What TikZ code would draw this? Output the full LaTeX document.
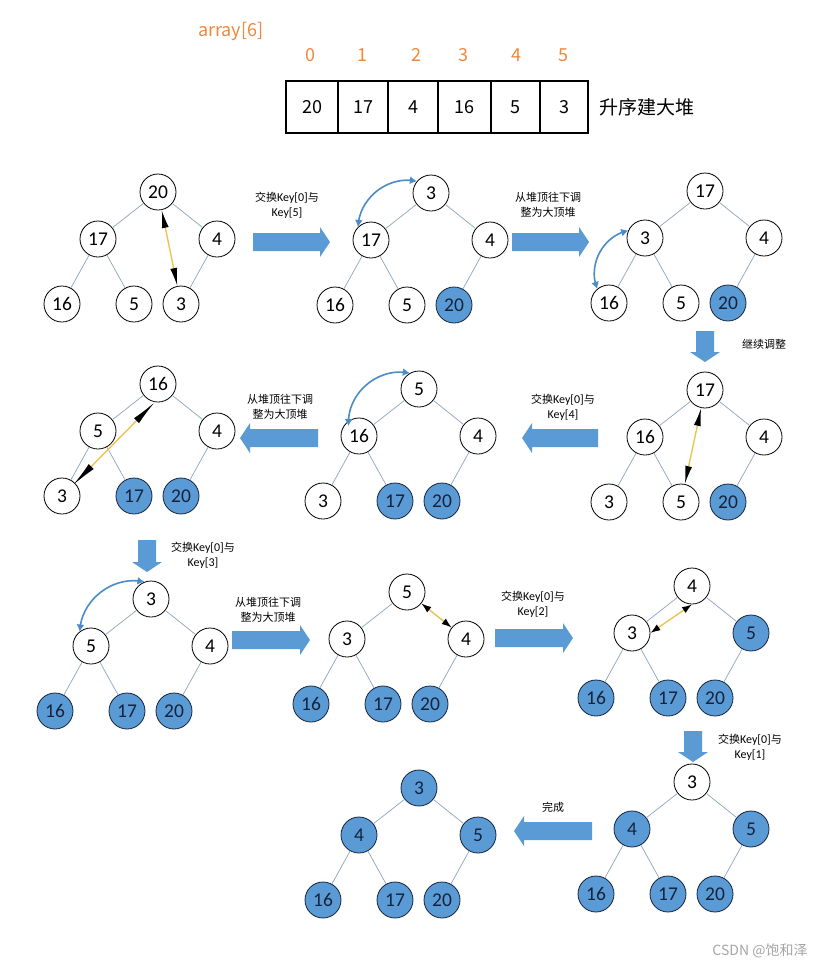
\documentclass[tikz,border=0pt]{standalone}
\usepackage{fontspec}
\setmainfont{Carlito}
\newfontfamily\cjk{Noto Sans CJK SC}
\usetikzlibrary{arrows.meta,bending}
\definecolor{hblue}{HTML}{5B9BD5}
\definecolor{hnavy}{HTML}{14233C}
\definecolor{hline}{RGB}{140,165,190}
\definecolor{horange}{HTML}{F0883C}
\definecolor{hyellow}{RGB}{238,196,80}
\definecolor{hcurve}{HTML}{4A8CC8}
\definecolor{hgray}{RGB}{165,165,165}
\newcommand\zh[1]{{\cjk\fontsize{11}{15}\selectfont #1}}
\def\hthresh{6}
\newcommand\htree[9]{%
  \edef\hthresh{\the\numexpr6-#3\relax}%
  \begin{scope}[shift={#2}]
    \node[hx=1] (#1a) at (0,0) {#4};
    \node[hx=2] (#1b) at (-60,47) {#5};
    \node[hx=3] (#1c) at (59,47) {#6};
    \node[hx=4] (#1d) at (-96,112) {#7};
    \node[hx=5] (#1e) at (-24,112) {#8};
    \node[hx=6] (#1f) at (23,112) {#9};
    \draw[tedge] (#1a) -- (#1b) (#1a) -- (#1c) (#1b) -- (#1d) (#1b) -- (#1e) (#1c) -- (#1f);
  \end{scope}}
\tikzset{
  hn/.style={circle,draw=black,line width=0.8pt,minimum size=36pt,inner sep=0pt,fill=white,text=black,font=\fontsize{19.5}{19.5}\selectfont},
  hf/.style={hn,fill=hblue,draw=hnavy,text=hnavy},
  hx/.code={\ifnum#1>\hthresh\relax\pgfkeysalso{hf}\else\pgfkeysalso{hn}\fi},
  tedge/.style={draw=hline,line width=0.7pt},
  yarrow/.style={draw=hyellow,line width=1.4pt,{Latex[color=black,length=#1,width=7pt]}-{Latex[color=black,length=#1,width=7pt]}},
  yarrow/.default=18pt,
  carrow/.style={draw=hcurve,line width=1.6pt,{Latex[length=7pt,width=8pt,flex]}-{Latex[length=7pt,width=8pt,flex]}},
  lbl/.style={align=center,font=\fontsize{12}{15}\selectfont,inner sep=0pt},
  cell/.style={draw=black,line width=2.6pt,minimum height=52pt,inner sep=0pt,font=\cjk\fontsize{18}{18}\selectfont},
  idx/.style={text=horange,font=\cjk\fontsize{18}{18}\selectfont,inner sep=0pt},
  blk/.pic={\fill[hblue] (0,-9) -- (#1-10,-9) -- (#1-10,-15) -- (#1,0) -- (#1-10,15) -- (#1-10,9) -- (0,9) -- cycle;}
}
\begin{document}
\begin{tikzpicture}[x=1pt,y=-1pt]
\useasboundingbox (0,0) rectangle (825,967);
\fill[white] (0,0) rectangle (825,967);

% array
\node[idx,anchor=west] (arr) at (198,31) {array[6]};
\node[cell,minimum width=52pt] (c0) at (312,107) {20};
\node[cell,minimum width=50pt] (c1) at (363,107) {17};
\node[cell,minimum width=50pt] (c2) at (413,107) {4};
\node[cell,minimum width=53pt] (c3) at (464.5,107) {16};
\node[cell,minimum width=49pt] (c4) at (515.5,107) {5};
\node[cell,minimum width=48pt] (c5) at (564,107) {3};
\node[idx] (i0) at (310,55) {0};
\node[idx] (i1) at (362,55) {1};
\node[idx] (i2) at (416,55) {2};
\node[idx] (i3) at (463,55) {3};
\node[idx] (i4) at (516,55) {4};
\node[idx] (i5) at (563,55) {5};
\node[anchor=west,inner sep=0pt,font=\cjk\fontsize{19}{19}\selectfont] (title) at (599,107) {升序建大堆};

% trees
\htree{ta}{(158,192)}{0}{20}{17}{4}{16}{5}{3}
\htree{tb}{(431,193)}{1}{3}{17}{4}{16}{5}{20}
\htree{tc}{(705,191)}{1}{17}{3}{4}{16}{5}{20}
\htree{td}{(705,390)}{1}{17}{16}{4}{3}{5}{20}
\htree{te}{(419,389)}{2}{5}{16}{4}{3}{17}{20}
\htree{tf}{(158,384)}{2}{16}{5}{4}{3}{17}{20}
\htree{tg}{(151,599)}{3}{3}{5}{4}{16}{17}{20}
\htree{th}{(407,592)}{3}{5}{3}{4}{16}{17}{20}
\htree{ti}{(692,586)}{4}{4}{3}{5}{16}{17}{20}
\htree{tj}{(692,782)}{5}{3}{4}{5}{16}{17}{20}
\htree{tk}{(419,788)}{6}{3}{4}{5}{16}{17}{20}

% swap arrows
\draw[yarrow=18pt] (taa) -- (taf);
\draw[yarrow=18pt] (tda) -- (tde);
\draw[yarrow=26pt,shorten <=-3pt] (tfd.45) -- (tfa.-100);
\draw[yarrow=10pt] (tha) -- (thc);
\draw[yarrow=10pt] (tib.east) -- (tia.south);

% curved arrows
\draw[carrow] (tbb.135) to[bend left=50] (tba.140);
\draw[carrow] (tcb.156) to[bend right=50] (tcd.130);
\draw[carrow,shorten <=-5pt] (teb.125) to[bend left=50] (tea.120);
\draw[carrow] (tgb.128) to[bend left=50] (tga.111);

% block arrows
\pic at (253,242) {blk=77};
\pic at (512,242) {blk=77};
\pic[rotate=-90] at (705,331) {blk=31};
\pic[rotate=180] at (598,438) {blk=76};
\pic[rotate=180] at (318,438) {blk=78};
\pic[rotate=-90] at (147,540) {blk=32};
\pic at (232,640) {blk=78};
\pic at (495,638) {blk=78};
\pic[rotate=-90] at (693,731) {blk=31};
\pic[rotate=180] at (592,831) {blk=78};

% labels
\node[lbl] (l1) at (287,205) {\zh{交换}Key[0]\zh{与}\\Key[5]};
\node[lbl] (l2) at (548,205) {\zh{从堆顶往下调}\\\zh{整为大顶堆}};
\node[lbl] (l3) at (764,344) {\zh{继续调整}};
\node[lbl] (l4) at (563,407) {\zh{交换}Key[0]\zh{与}\\Key[4]};
\node[lbl] (l5) at (280,407) {\zh{从堆顶往下调}\\\zh{整为大顶堆}};
\node[lbl] (l6) at (203,555) {\zh{交换}Key[0]\zh{与}\\Key[3]};
\node[lbl] (l7) at (268,610) {\zh{从堆顶往下调}\\\zh{整为大顶堆}};
\node[lbl] (l8) at (533,604) {\zh{交换}Key[0]\zh{与}\\Key[2]};
\node[lbl] (l9) at (750,747) {\zh{交换}Key[0]\zh{与}\\Key[1]};
\node[lbl] (l10) at (553,807) {\zh{完成}};

\node[inner sep=0pt,text=hgray,font=\cjk\fontsize{14}{14}\selectfont] (wm) at (760,951) {CSDN @饱和泽};
\end{tikzpicture}
\end{document}
